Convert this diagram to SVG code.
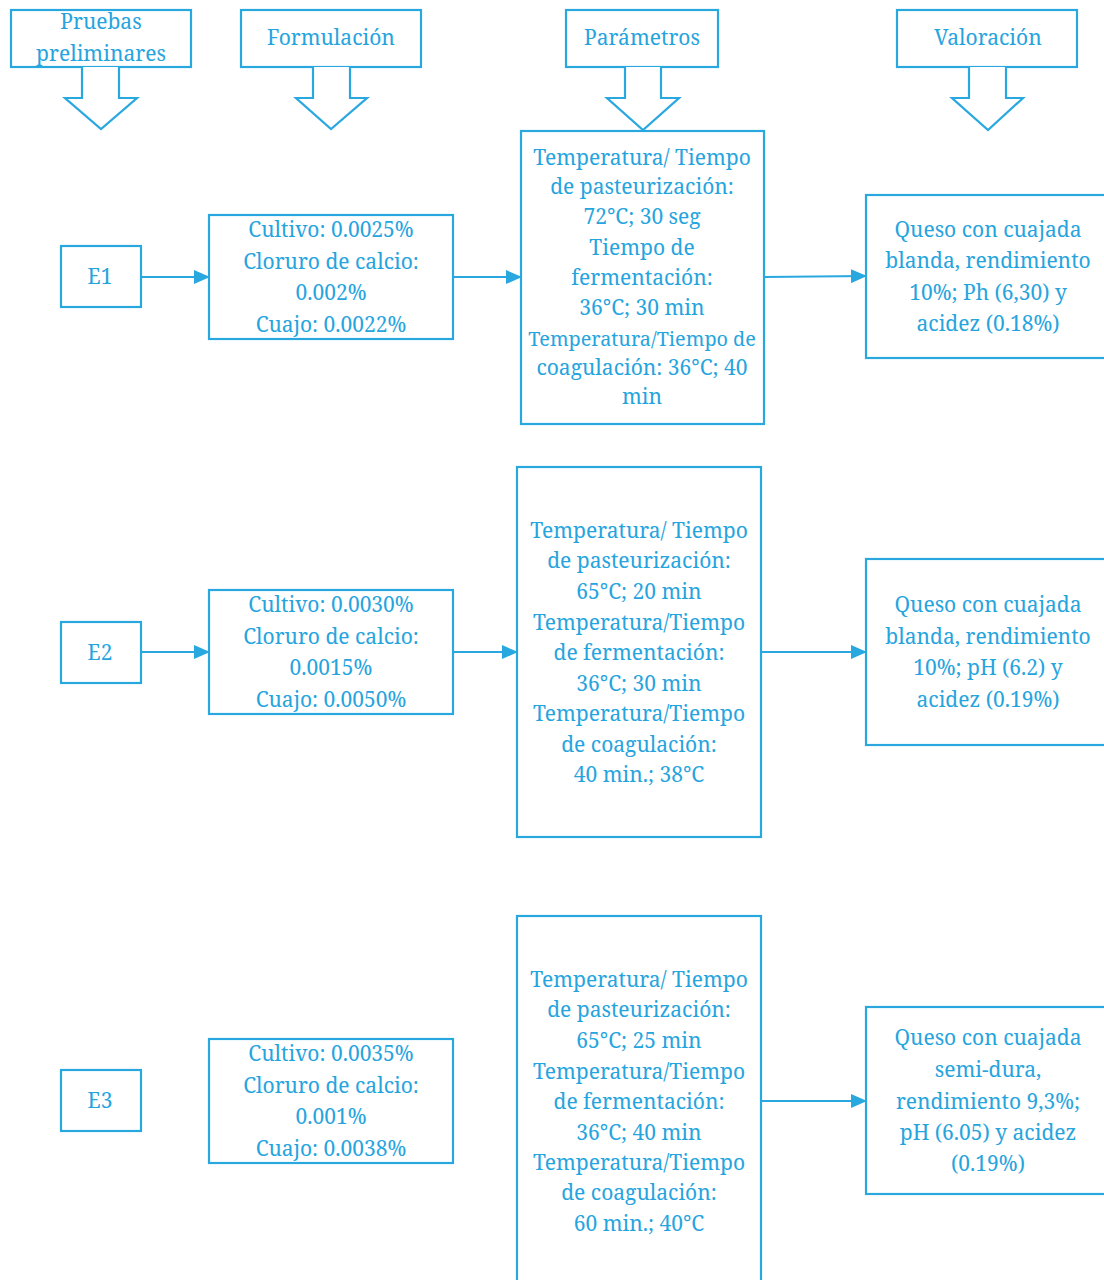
<svg xmlns="http://www.w3.org/2000/svg" width="1104" height="1280" viewBox="0 0 1104 1280">
<style>
.b{fill:#fff;stroke:#29a8e0;stroke-width:2.2}
.t{font-family:"Noto Serif","DejaVu Serif",serif;font-size:21px;fill:#26a4de;text-anchor:middle}
.s{font-size:19.8px}
.c{stroke:#29a8e0;stroke-width:2.2;fill:none}
</style>
<defs>
<marker id="ah" markerWidth="16" markerHeight="14" refX="15" refY="7" orient="auto" markerUnits="userSpaceOnUse">
<path d="M0,0 L16,7 L0,14 Z" fill="#29a8e0"/>
</marker>
</defs>
<rect width="1104" height="1280" fill="#fff"/>

<g id="h1">
<rect class="b" x="11" y="10" width="180" height="57"/>
<path class="b" d="M82,67 L82,98 L65,98 L101,129 L137,98 L119,98 L119,67"/>
<text class="t" x="101" y="29">Pruebas</text>
<text class="t" x="101" y="61">preliminares</text>
</g>
<g id="h2">
<rect class="b" x="241" y="10" width="180" height="57"/>
<path class="b" d="M313,67 L313,98 L296,98 L331,129 L367,98 L350,98 L350,67"/>
<text class="t" x="331" y="45">Formulación</text>
</g>
<g id="h3">
<rect class="b" x="566" y="10" width="152" height="57"/>
<path class="b" d="M625,67 L625,98 L607,98 L643,130 L679,98 L661,98 L661,67"/>
<text class="t" x="642" y="45">Parámetros</text>
</g>
<g id="h4">
<rect class="b" x="897" y="10" width="180" height="57"/>
<path class="b" d="M969,67 L969,98 L952,98 L988,130 L1023,98 L1006,98 L1006,67"/>
<text class="t" x="988" y="45">Valoración</text>
</g>

<g id="e1">
<rect class="b" x="61" y="246" width="80" height="61"/>
<text class="t" x="100" y="284">E1</text>
</g>
<g id="f1">
<rect class="b" x="209" y="215" width="244" height="124"/>
<text class="t" x="331" y="237">Cultivo: 0.0025%</text>
<text class="t" x="331" y="269">Cloruro de calcio:</text>
<text class="t" x="331" y="300">0.002%</text>
<text class="t" x="331" y="332">Cuajo: 0.0022%</text>
</g>
<g id="p1">
<rect class="b" x="521" y="131" width="243" height="293"/>
<text class="t" x="642" y="165">Temperatura/ Tiempo</text>
<text class="t" x="642" y="194">de pasteurización:</text>
<text class="t" x="642" y="224">72°C; 30 seg</text>
<text class="t" x="642" y="255">Tiempo de</text>
<text class="t" x="642" y="285">fermentación:</text>
<text class="t" x="642" y="315">36°C; 30 min</text>
<text class="t s" x="642" y="346">Temperatura/Tiempo de</text>
<text class="t" x="642" y="375">coagulación: 36°C; 40</text>
<text class="t" x="642" y="404">min</text>
</g>
<g id="v1">
<rect class="b" x="866" y="195" width="244" height="163"/>
<text class="t" x="988" y="237">Queso con cuajada</text>
<text class="t" x="988" y="268">blanda, rendimiento</text>
<text class="t" x="988" y="300">10%; Ph (6,30) y</text>
<text class="t" x="988" y="331">acidez (0.18%)</text>
</g>

<g id="e2">
<rect class="b" x="61" y="622" width="80" height="61"/>
<text class="t" x="100" y="660">E2</text>
</g>
<g id="f2">
<rect class="b" x="209" y="590" width="244" height="124"/>
<text class="t" x="331" y="612">Cultivo: 0.0030%</text>
<text class="t" x="331" y="644">Cloruro de calcio:</text>
<text class="t" x="331" y="675">0.0015%</text>
<text class="t" x="331" y="707">Cuajo: 0.0050%</text>
</g>
<g id="p2">
<rect class="b" x="517" y="467" width="244" height="370"/>
<text class="t" x="639" y="538">Temperatura/ Tiempo</text>
<text class="t" x="639" y="568">de pasteurización:</text>
<text class="t" x="639" y="599">65°C; 20 min</text>
<text class="t" x="639" y="630">Temperatura/Tiempo</text>
<text class="t" x="639" y="660">de fermentación:</text>
<text class="t" x="639" y="691">36°C; 30 min</text>
<text class="t" x="639" y="721">Temperatura/Tiempo</text>
<text class="t" x="639" y="752">de coagulación:</text>
<text class="t" x="639" y="782">40 min.; 38°C</text>
</g>
<g id="v2">
<rect class="b" x="866" y="559" width="244" height="186"/>
<text class="t" x="988" y="612">Queso con cuajada</text>
<text class="t" x="988" y="644">blanda, rendimiento</text>
<text class="t" x="988" y="675">10%; pH (6.2) y</text>
<text class="t" x="988" y="707">acidez (0.19%)</text>
</g>

<g id="e3">
<rect class="b" x="61" y="1070" width="80" height="61"/>
<text class="t" x="100" y="1108">E3</text>
</g>
<g id="f3">
<rect class="b" x="209" y="1039" width="244" height="124"/>
<text class="t" x="331" y="1061">Cultivo: 0.0035%</text>
<text class="t" x="331" y="1093">Cloruro de calcio:</text>
<text class="t" x="331" y="1124">0.001%</text>
<text class="t" x="331" y="1156">Cuajo: 0.0038%</text>
</g>
<g id="p3">
<rect class="b" x="517" y="916" width="244" height="380"/>
<text class="t" x="639" y="987">Temperatura/ Tiempo</text>
<text class="t" x="639" y="1017">de pasteurización:</text>
<text class="t" x="639" y="1048">65°C; 25 min</text>
<text class="t" x="639" y="1079">Temperatura/Tiempo</text>
<text class="t" x="639" y="1109">de fermentación:</text>
<text class="t" x="639" y="1140">36°C; 40 min</text>
<text class="t" x="639" y="1170">Temperatura/Tiempo</text>
<text class="t" x="639" y="1200">de coagulación:</text>
<text class="t" x="639" y="1231">60 min.; 40°C</text>
</g>
<g id="v3">
<rect class="b" x="866" y="1007" width="244" height="187"/>
<text class="t" x="988" y="1045">Queso con cuajada</text>
<text class="t" x="988" y="1077">semi-dura,</text>
<text class="t" x="988" y="1109">rendimiento 9,3%;</text>
<text class="t" x="988" y="1140">pH (6.05) y acidez</text>
<text class="t" x="988" y="1171">(0.19%)</text>
</g>

<g id="connectors">
<line class="c" x1="141" y1="277" x2="209" y2="277" marker-end="url(#ah)"/>
<line class="c" x1="453" y1="277" x2="521" y2="277" marker-end="url(#ah)"/>
<line class="c" x1="764" y1="277" x2="866" y2="276" marker-end="url(#ah)"/>
<line class="c" x1="141" y1="652" x2="209" y2="652" marker-end="url(#ah)"/>
<line class="c" x1="453" y1="652" x2="517" y2="652" marker-end="url(#ah)"/>
<line class="c" x1="761" y1="652" x2="866" y2="652" marker-end="url(#ah)"/>
<line class="c" x1="761" y1="1101" x2="866" y2="1101" marker-end="url(#ah)"/>
</g>
</svg>
